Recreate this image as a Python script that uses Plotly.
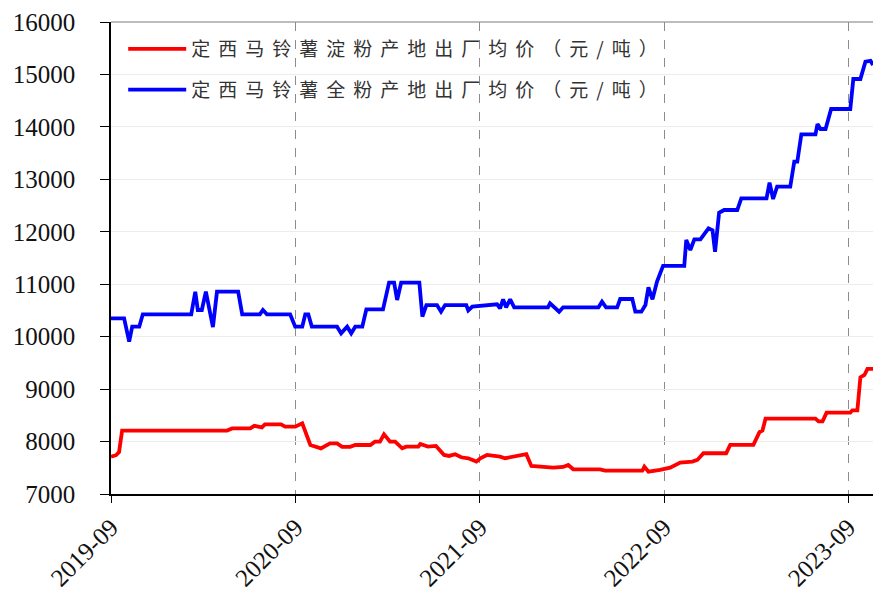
import plotly.graph_objects as go

# ---- data ----
starch_dates = [
    "2019-09-01", "2019-09-11", "2019-09-17", "2019-09-23", "2020-04-18", "2020-04-28",
    "2020-06-03", "2020-06-11", "2020-06-26", "2020-07-02", "2020-08-03", "2020-08-11",
    "2020-08-31", "2020-09-14", "2020-09-30", "2020-10-21", "2020-11-08", "2020-11-22",
    "2020-12-02", "2020-12-18", "2020-12-28", "2021-01-27", "2021-02-05", "2021-02-15",
    "2021-02-23", "2021-03-07", "2021-03-17", "2021-03-31", "2021-04-08", "2021-05-02",
    "2021-05-06", "2021-05-21", "2021-06-06", "2021-06-22", "2021-07-02", "2021-07-14",
    "2021-07-26", "2021-08-09", "2021-08-25", "2021-09-02", "2021-09-15", "2021-10-11",
    "2021-10-21", "2021-11-04", "2021-12-02", "2021-12-12", "2022-01-24", "2022-02-13",
    "2022-02-23", "2022-03-05", "2022-04-27", "2022-05-07", "2022-07-20", "2022-07-24",
    "2022-08-01", "2022-08-24", "2022-09-13", "2022-10-03", "2022-10-27", "2022-11-06",
    "2022-11-18", "2023-01-02", "2023-01-10", "2023-02-25", "2023-03-09", "2023-03-15",
    "2023-03-21", "2023-06-28", "2023-07-04", "2023-07-12", "2023-07-20", "2023-09-05",
    "2023-09-09", "2023-09-19", "2023-09-25", "2023-10-03", "2023-10-09", "2023-10-20",
]
starch_prices = [
    7710, 7740, 7800, 8210, 8210, 8250,
    8250, 8300, 8270, 8328, 8328, 8283,
    8283, 8347, 7934, 7870, 7966, 7966,
    7900, 7900, 7934, 7934, 7998, 7998,
    8137, 7998, 7998, 7870, 7902, 7902,
    7955, 7904, 7917, 7745, 7726, 7758,
    7700, 7680, 7618, 7682, 7745, 7713,
    7682, 7713, 7758, 7535, 7503, 7515,
    7554, 7471, 7471, 7446, 7446, 7522,
    7427, 7459, 7503, 7599, 7618, 7650,
    7777, 7777, 7936, 7936, 8179, 8210,
    8436, 8436, 8385, 8385, 8551, 8551,
    8596, 8596, 9224, 9269, 9385, 9385,
]

flour_dates = [
    "2019-09-01", "2019-09-27", "2019-10-07", "2019-10-13", "2019-10-27", "2019-11-03",
    "2020-02-07", "2020-02-15", "2020-02-20", "2020-02-28", "2020-03-07", "2020-03-21",
    "2020-03-29", "2020-05-10", "2020-05-18", "2020-06-22", "2020-06-28", "2020-07-06",
    "2020-08-21", "2020-08-31", "2020-09-14", "2020-09-20", "2020-09-26", "2020-10-03",
    "2020-11-22", "2020-11-30", "2020-12-12", "2020-12-20", "2020-12-28", "2021-01-11",
    "2021-01-19", "2021-02-21", "2021-03-05", "2021-03-15", "2021-03-21", "2021-03-29",
    "2021-05-04", "2021-05-10", "2021-05-18", "2021-06-08", "2021-06-16", "2021-06-24",
    "2021-08-05", "2021-08-09", "2021-08-17", "2021-09-21", "2021-10-05", "2021-10-11",
    "2021-10-17", "2021-10-23", "2021-10-31", "2021-11-08", "2022-01-14", "2022-01-18",
    "2022-02-05", "2022-02-13", "2022-04-24", "2022-05-01", "2022-05-09", "2022-05-31",
    "2022-06-06", "2022-06-30", "2022-07-06", "2022-07-18", "2022-07-26", "2022-08-01",
    "2022-08-09", "2022-08-18", "2022-08-30", "2022-10-11", "2022-10-15", "2022-10-23",
    "2022-10-31", "2022-11-12", "2022-11-28", "2022-12-06", "2022-12-11", "2022-12-19",
    "2022-12-29", "2023-01-24", "2023-02-01", "2023-03-23", "2023-03-29", "2023-04-05",
    "2023-04-13", "2023-05-09", "2023-05-17", "2023-05-23", "2023-05-31", "2023-06-28",
    "2023-07-02", "2023-07-08", "2023-07-18", "2023-07-29", "2023-09-05", "2023-09-11",
    "2023-09-25", "2023-10-05", "2023-10-15", "2023-10-20",
]
flour_prices = [
    10350, 10350, 9904, 10190, 10190, 10426,
    10426, 10857, 10508, 10508, 10857, 10184,
    10857, 10857, 10426, 10426, 10508, 10426,
    10426, 10190, 10190, 10426, 10426, 10190,
    10190, 10063, 10190, 10063, 10190, 10190,
    10521, 10521, 11030, 11030, 10699, 11030,
    11030, 10381, 10603, 10603, 10476, 10603,
    10603, 10500, 10572, 10617, 10617, 10540,
    10712, 10560, 10712, 10560, 10560, 10635,
    10476, 10560, 10560, 10667, 10560, 10560,
    10718, 10718, 10476, 10476, 10603, 10941,
    10712, 11050, 11350, 11350, 11843, 11652,
    11856, 11856, 12066, 12030, 11620, 12363,
    12415, 12415, 12638, 12638, 12936, 12625,
    12860, 12860, 13336, 13336, 13858, 13858,
    14055, 13960, 13960, 14341, 14341, 14913,
    14913, 15243, 15260, 15180,
]

series_names = ["定西马铃薯淀粉产地出厂均价（元/吨）", "定西马铃薯全粉产地出厂均价（元/吨）"]
x_tick_values = ["2019-09-01", "2020-09-01", "2021-09-01", "2022-09-01", "2023-09-01"]
x_tick_labels = ["2019-09", "2020-09", "2021-09", "2022-09", "2023-09"]
y_tick_values = [7000, 8000, 9000, 10000, 11000, 12000, 13000, 14000, 15000, 16000]
y_tick_labels = ["7000", "8000", "9000", "10000", "11000", "12000", "13000", "14000", "15000", "16000"]

# ---- figure ----
def spaced(name):
    return '<span style="letter-spacing:8px">' + name + "</span>"

fig = go.Figure()
fig.add_trace(go.Scatter(
    x=starch_dates, y=starch_prices, mode="lines", name=spaced(series_names[0]),
    line=dict(color="#ff0000", width=3.8), legendgroup="a",
))
fig.add_trace(go.Scatter(
    x=flour_dates, y=flour_prices, mode="lines", name=spaced(series_names[1]),
    line=dict(color="#0000ff", width=3.8), legendgroup="b",
))

serif = "Liberation Serif, Times New Roman, serif"
fig.update_layout(
    width=873, height=592,
    margin=dict(l=111, r=0, t=22, b=98, autoexpand=False),
    paper_bgcolor="white", plot_bgcolor="white",
    showlegend=True,
    legend=dict(
        x=0.016, y=0.983, xanchor="left", yanchor="top",
        bgcolor="rgba(0,0,0,0)", borderwidth=0,
        font=dict(family="Noto Sans CJK SC", size=19, color="#333333"),
        traceorder="grouped", tracegroupgap=13, itemwidth=58,
    ),
    xaxis=dict(
        type="date", range=["2019-09-01", "2023-10-20"], automargin=False,
        tickvals=x_tick_values, ticktext=x_tick_labels, tickangle=-45,
        showgrid=True, gridcolor="#8c8c8c", griddash="dash", gridwidth=1,
        showline=True, linecolor="black", linewidth=1.5,
        ticks="outside", ticklen=7, tickcolor="black", tickwidth=1,
        tickfont=dict(family=serif, size=25, color="#111111"),
        zeroline=False,
    ),
    yaxis=dict(
        range=[7000, 16000], tickvals=y_tick_values, ticktext=y_tick_labels, automargin=False,
        showgrid=True, gridcolor="#ececec", gridwidth=1,
        showline=True, linecolor="black", linewidth=1.5,
        ticks="outside", ticklen=9, tickcolor="black", tickwidth=1,
        tickfont=dict(family=serif, size=25, color="#111111"),
        ticklabelstandoff=20,
        zeroline=False,
    ),
    shapes=[dict(type="line", xref="paper", yref="paper", x0=0, x1=1, y0=1, y1=1,
                 line=dict(color="#bdbdbd", width=2), layer="below")],
)

# remove the browser's default 8px page margin so the figure fills the window exactly
fig.write_html(
    "out.html",
    config={"displayModeBar": False},
    post_script="document.body.style.margin='0';document.body.style.overflow='hidden';",
)
